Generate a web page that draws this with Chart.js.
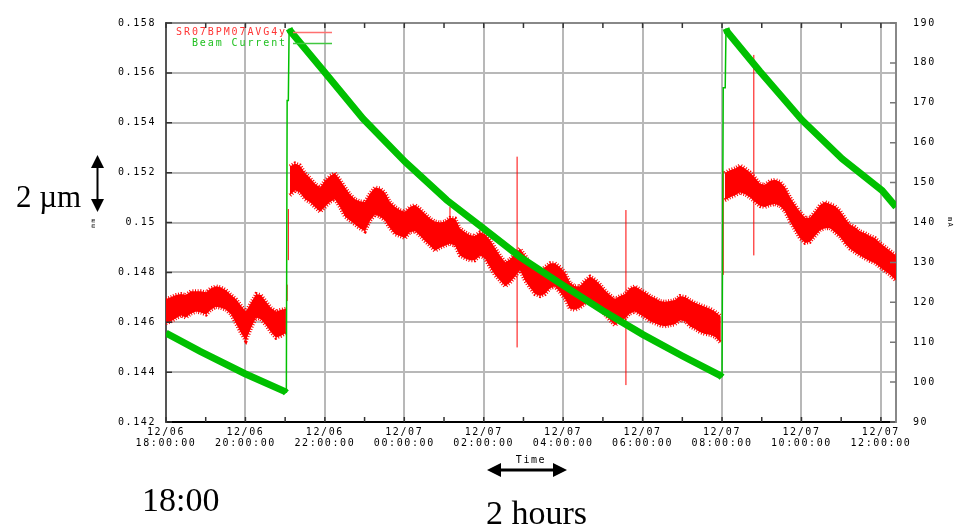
<!DOCTYPE html>
<html>
<head>
<meta charset="utf-8">
<script src="https://cdn.jsdelivr.net/npm/chart.js@4.4.1/dist/chart.umd.min.js"></script>
<style>
  body { margin: 0; background: #fff; }
  #wrap { position: relative; width: 962px; height: 532px; }
  #chart { position: absolute; left: 0; top: 0; }
  #arrows { position: absolute; left: 0; top: 0; }
  .note { position: absolute; font-family: "Liberation Serif", "Times New Roman", serif; color: #000; line-height: 1; white-space: nowrap; }
</style>
</head>
<body>
<div id="wrap">
  <canvas id="chart" width="962" height="532"></canvas>
  <svg id="arrows" width="962" height="532">
    <line x1="97.5" y1="166" x2="97.5" y2="201" stroke="#000" stroke-width="2"/>
    <polygon points="91,168 97.5,155 104,168" fill="#000"/>
    <polygon points="91,199 97.5,212 104,199" fill="#000"/>
    <line x1="500" y1="470" x2="554" y2="470" stroke="#000" stroke-width="3"/>
    <polygon points="487,470 501,463 501,477" fill="#000"/>
    <polygon points="567,470 553,463 553,477" fill="#000"/>
  </svg>
  <div class="note" style="left:16px;top:181px;font-size:31px">2 µm</div>
  <div class="note" style="left:142px;top:483px;font-size:34px">18:00</div>
  <div class="note" style="left:486px;top:496px;font-size:34px">2 hours</div>
</div>
<script>
// hours after 12/06 18:00
const redLabel = "SR07BPM07AVG4y";
const beamLabel = "Beam Current";

// BPM position band (upper / lower edge of the noise), mm
const redT1 = [0.00,0.13,0.25,0.38,0.50,0.63,0.76,0.88,1.01,1.13,1.26,1.38,1.51,1.64,1.76,1.89,2.01,2.14,2.27,2.39,2.52,2.64,2.77,2.90,3.02];
const redHi1 = [0.14693,0.14701,0.14709,0.14713,0.14709,0.14724,0.14724,0.14724,0.14720,0.14736,0.14744,0.14740,0.14728,0.14709,0.14693,0.14666,0.14643,0.14678,0.14713,0.14709,0.14682,0.14658,0.14643,0.14650,0.14654];
const redLo1 = [0.14596,0.14604,0.14616,0.14627,0.14619,0.14635,0.14643,0.14639,0.14631,0.14650,0.14662,0.14658,0.14650,0.14631,0.14596,0.14557,0.14526,0.14577,0.14619,0.14612,0.14588,0.14561,0.14538,0.14546,0.14557];

const redT2 = [3.12,3.25,3.37,3.50,3.62,3.75,3.88,4.00,4.13,4.25,4.38,4.51,4.63,4.76,4.88,5.01,5.14,5.26,5.39,5.51,5.64,5.77,5.89,6.02,6.14,6.27,6.40,6.52,6.65,6.77,6.90,7.02,7.15,7.28,7.40,7.53,7.65,7.78,7.91,8.03,8.16,8.28,8.41,8.54,8.66,8.79,8.91,9.04,9.16,9.29,9.42,9.54,9.67,9.79,9.92,10.05,10.17,10.30,10.42,10.55,10.68,10.80,10.93,11.05,11.18,11.30,11.43,11.56,11.68,11.81,11.93,12.06,12.19,12.31,12.44,12.56,12.69,12.81,12.94,13.07,13.19,13.32,13.44,13.57,13.70,13.82,13.97];
const redHi2 = [0.15225,0.15237,0.15229,0.15198,0.15179,0.15155,0.15140,0.15167,0.15186,0.15198,
  0.15171,0.15140,0.15113,0.15093,0.15085,0.15082,0.15117,0.15140,0.15136,0.15120,
  0.15082,0.15062,0.15050,0.15043,0.15062,0.15070,0.15054,0.15035,0.15016,0.15004,
  0.15000,0.15004,0.15019,0.15016,0.14977,0.14961,0.14950,0.14946,0.14961,0.14953,
  0.14930,0.14899,0.14868,0.14841,0.14852,0.14876,0.14895,0.14868,0.14837,0.14814,
  0.14806,0.14821,0.14837,0.14837,0.14821,0.14798,0.14759,0.14744,0.14744,0.14767,
  0.14783,0.14771,0.14751,0.14728,0.14709,0.14693,0.14705,0.14713,0.14736,0.14744,
  0.14732,0.14720,0.14705,0.14697,0.14685,0.14682,0.14685,0.14689,0.14705,0.14701,
  0.14689,0.14678,0.14670,0.14662,0.14654,0.14643,0.14623];
const redLo2 = [0.15109,0.15128,0.15120,0.15093,0.15082,0.15062,0.15043,0.15062,0.15082,0.15093,
  0.15062,0.15023,0.15008,0.14992,0.14977,0.14965,0.15008,0.15031,0.15023,0.15008,
  0.14977,0.14953,0.14946,0.14938,0.14961,0.14965,0.14946,0.14926,0.14907,0.14887,
  0.14899,0.14907,0.14915,0.14907,0.14868,0.14856,0.14849,0.14849,0.14868,0.14856,
  0.14821,0.14790,0.14767,0.14744,0.14759,0.14783,0.14810,0.14767,0.14740,0.14713,
  0.14705,0.14713,0.14736,0.14744,0.14720,0.14693,0.14654,0.14650,0.14658,0.14674,
  0.14682,0.14666,0.14654,0.14631,0.14608,0.14588,0.14604,0.14616,0.14635,0.14643,
  0.14631,0.14619,0.14604,0.14596,0.14588,0.14584,0.14588,0.14592,0.14608,0.14604,
  0.14584,0.14573,0.14561,0.14553,0.14550,0.14542,0.14518];

const redT3 = [14.07,14.20,14.33,14.45,14.58,14.70,14.83,14.96,15.08,15.21,15.33,15.46,15.59,15.71,15.84,15.96,16.09,16.21,16.34,16.47,16.59,16.72,16.84,16.97,17.10,17.22,17.35,17.47,17.60,17.73,17.85,17.98,18.10,18.23,18.38];
const redHi3 = [0.15198,0.15210,0.15217,0.15229,0.15217,0.15202,0.15179,0.15155,0.15151,0.15167,
  0.15171,0.15163,0.15140,0.15101,0.15070,0.15043,0.15019,0.15019,0.15043,0.15070,
  0.15082,0.15074,0.15066,0.15047,0.15016,0.14992,0.14981,0.14965,0.14957,0.14946,
  0.14938,0.14918,0.14903,0.14887,0.14868];
const redLo3 = [0.15089,0.15101,0.15109,0.15120,0.15113,0.15101,0.15082,0.15066,0.15062,0.15070,
  0.15074,0.15066,0.15043,0.15004,0.14969,0.14938,0.14918,0.14922,0.14946,0.14969,
  0.14977,0.14977,0.14961,0.14942,0.14915,0.14895,0.14880,0.14868,0.14856,0.14845,
  0.14837,0.14821,0.14806,0.14790,0.14767];

// single-sample glitches
const spikeT = [3.05, 3.08, 7.15, 8.84, 11.58, 14.03, 14.80];
const spikeLo = [0.14685, 0.14849, 0.14950, 0.14499, 0.14348, 0.14790, 0.14868];
const spikeHi = [0.14751, 0.15054, 0.15062, 0.15264, 0.15050, 0.15206, 0.15672];

// beam current, mA
const beamT = [0.00,0.86,1.99,3.00,3.03,3.05,3.08,3.10,3.13,4.00,4.96,6.02,7.07,7.98,8.91,9.99,11.00,12.01,12.99,13.96,14.00,14.03,14.08,14.10,14.13,14.95,16.01,17.02,18.03,18.38];
const beamMA = [112.3,107.7,102.1,97.6,97.3,170.6,170.6,188.6,188.0,177.6,166.0,155.2,145.6,138.6,131.4,124.3,117.9,111.9,106.6,101.6,101.2,173.8,173.8,188.6,187.8,177.9,165.7,156.0,148.0,143.9];

// axes
const xTickHours = [0, 2, 4, 6, 8, 10, 12, 14, 16, 18];
const xTickDates = ["12/06","12/06","12/06","12/07","12/07","12/07","12/07","12/07","12/07","12/07"];
const xTickTimes = ["18:00:00","20:00:00","22:00:00","00:00:00","02:00:00","04:00:00","06:00:00","08:00:00","10:00:00","12:00:00"];
const leftTicks = [0.142, 0.144, 0.146, 0.148, 0.150, 0.152, 0.154, 0.156, 0.158];
const leftTickLabels = ["0.142","0.144","0.146","0.148","0.15","0.152","0.154","0.156","0.158"];
const rightTicks = [90, 100, 110, 120, 130, 140, 150, 160, 170, 180, 190];

const mono = '"DejaVu Sans Mono", "Liberation Mono", monospace';
const RED = "#ff0000";
const GREEN = "#00c000";

const pts = (t, v) => t.map((x, i) => ({ x: x, y: v[i] }));
const spikePts = spikeT.flatMap((t, i) => [{ x: t, y: spikeLo[i] }, { x: t, y: spikeHi[i] }, { x: t, y: null }]);

// the band edges get a thick dashed stroke so they read as noise
const band = (t, hi, lo) => [
    { data: pts(t, hi), yAxisID: "y", borderColor: RED, borderWidth: 4, borderDash: [1, 1.6], fill: false },
    { data: pts(t, lo), yAxisID: "y", borderColor: RED, borderWidth: 4, borderDash: [1, 1.6], backgroundColor: RED, fill: "-1" },
];

const innerTicks = {
    id: "innerTicks",
    beforeDraw(chart) {
        chart.ctx.letterSpacing = "1.6px";
    },
    afterDatasetsDraw(chart) {
        const { ctx, chartArea: a, scales } = chart;
        ctx.save();
        ctx.lineWidth = 1.5;
        ctx.strokeStyle = "#333";
        ctx.beginPath();
        for (let h = 0; h <= 18; h++) {
            const px = scales.x.getPixelForValue(h);
            ctx.moveTo(px, a.bottom); ctx.lineTo(px, a.bottom - 5);
            ctx.moveTo(px, a.top); ctx.lineTo(px, a.top + 5);
        }
        leftTicks.forEach(v => {
            const py = scales.y.getPixelForValue(v);
            ctx.moveTo(a.left, py); ctx.lineTo(a.left + 6, py);
        });
        ctx.stroke();
        ctx.strokeStyle = "#777";
        ctx.beginPath();
        rightTicks.forEach(v => {
            const py = scales.y1.getPixelForValue(v);
            ctx.moveTo(a.right, py); ctx.lineTo(a.right - 6, py);
        });
        ctx.stroke();
        ctx.restore();
    },
};

const sideLegend = {
    id: "sideLegend",
    afterDraw(chart) {
        const ctx = chart.ctx;
        const a = chart.chartArea;
        const items = [
            { text: redLabel, color: "#ff3535", line: "#ff7070", y: a.top + 9.5 },
            { text: beamLabel, color: "#20c020", line: "#40c840", y: a.top + 20.5 },
        ];
        ctx.save();
        ctx.font = "10px " + mono;
        ctx.letterSpacing = "1.9px";
        ctx.textAlign = "right";
        ctx.textBaseline = "middle";
        items.forEach(it => {
            ctx.fillStyle = it.color;
            ctx.fillText(it.text, a.left + 121, it.y);
            ctx.strokeStyle = it.line;
            ctx.lineWidth = 1.5;
            ctx.beginPath();
            ctx.moveTo(a.left + 127, it.y);
            ctx.lineTo(a.left + 166, it.y);
            ctx.stroke();
        });
        ctx.restore();
    },
};

new Chart(document.getElementById("chart"), {
    type: "line",
    plugins: [innerTicks, sideLegend],
    data: {
        datasets: [
            {
                label: beamLabel,
                data: pts(beamT, beamMA),
                yAxisID: "y1",
                borderColor: GREEN,
                borderWidth: 7,
                borderCapStyle: "butt",
                segment: {
                    borderWidth: c => (c.p1.parsed.y >= c.p0.parsed.y ? 1.5 : 7),
                },
            },
            { label: redLabel, data: spikePts, yAxisID: "y", borderColor: RED, borderWidth: 1, spanGaps: false },
            ...band(redT1, redHi1, redLo1),
            ...band(redT2, redHi2, redLo2),
            ...band(redT3, redHi3, redLo3),
        ],
    },
    options: {
        responsive: false,
        animation: false,
        layout: { padding: { left: 90, right: 8, top: 10, bottom: 66 } },
        elements: { point: { radius: 0 }, line: { tension: 0 } },
        plugins: { legend: { display: false }, tooltip: { enabled: false } },
        scales: {
            x: {
                type: "linear",
                min: 0,
                max: 18.38,
                afterBuildTicks: s => { s.ticks = xTickHours.map(v => ({ value: v })); },
                afterFit: s => { s.height = 44; },
                grid: { color: "#b8b8b8", lineWidth: 2, drawTicks: false },
                border: { color: "#000", width: 2 },
                ticks: {
                    callback: (v, i) => [xTickDates[i], xTickTimes[i]],
                    padding: 5,
                    maxRotation: 0,
                    autoSkip: false,
                    color: "#000",
                    font: { family: mono, size: 10, lineHeight: 1.1 },
                },
                title: { display: true, text: "Time", padding: 0, color: "#000", font: { family: mono, size: 10 } },
            },
            y: {
                position: "left",
                min: 0.142,
                max: 0.158,
                afterBuildTicks: s => { s.ticks = leftTicks.map(v => ({ value: v })); },
                afterFit: s => { s.width = 76; },
                grid: {
                    color: c => (c.tick && c.tick.value === 0.158 ? "#888" : "#b8b8b8"),
                    lineWidth: 2,
                    drawTicks: false,
                },
                border: { color: "#555", width: 2 },
                ticks: {
                    callback: (v, i) => leftTickLabels[i],
                    padding: 10,
                    color: "#000",
                    font: { family: mono, size: 10 },
                },
                title: { display: true, text: "mm", padding: 0, color: "#000", font: { family: mono, size: 6 } },
            },
            y1: {
                position: "right",
                min: 90,
                max: 190,
                afterBuildTicks: s => { s.ticks = rightTicks.map(v => ({ value: v })); },
                afterFit: s => { s.width = 58; },
                grid: { drawOnChartArea: false, drawTicks: false },
                border: { color: "#888", width: 2 },
                ticks: {
                    callback: v => String(v),
                    padding: 17,
                    color: "#000",
                    font: { family: mono, size: 10 },
                },
                title: { display: true, text: "mA", padding: 0, color: "#000", font: { family: mono, size: 7 } },
            },
        },
    },
});
</script>
</body>
</html>
